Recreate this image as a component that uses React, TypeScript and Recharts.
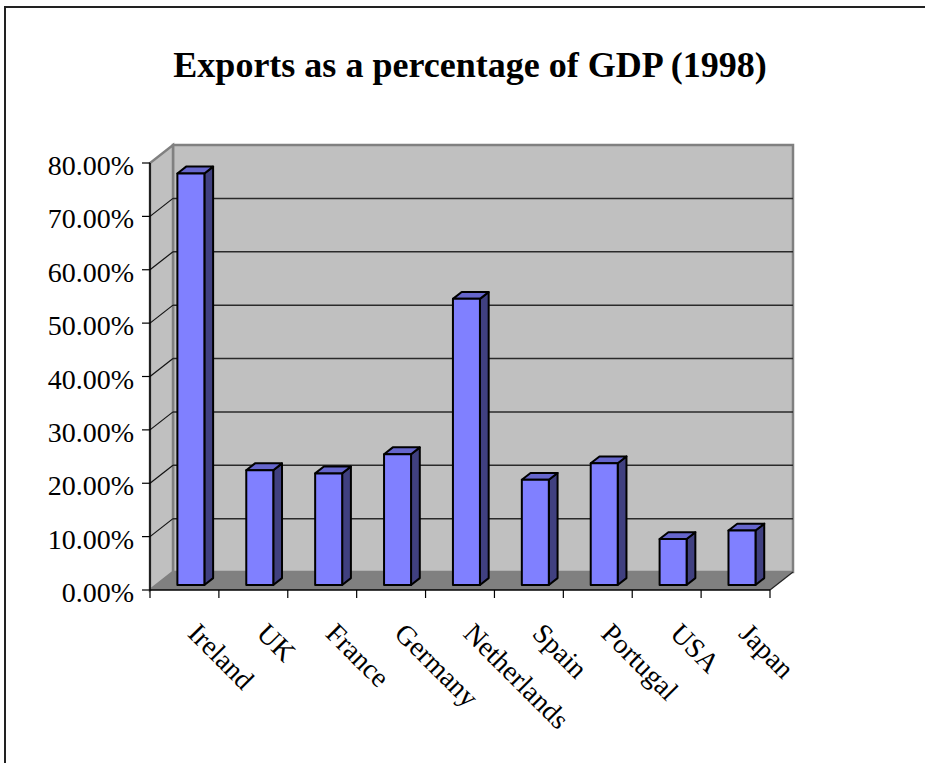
import React from "react";
import { BarChart, Bar, XAxis, YAxis, ReferenceArea } from "recharts";

const categories = [
  "Ireland",
  "UK",
  "France",
  "Germany",
  "Netherlands",
  "Spain",
  "Portugal",
  "USA",
  "Japan",
];
const exportShare = [0.771, 0.215, 0.209, 0.245, 0.536, 0.197, 0.228, 0.086, 0.102];
const yTicks = [0, 0.1, 0.2, 0.3, 0.4, 0.5, 0.6, 0.7, 0.8];

const data = categories.map((country, i) => ({ country, share: exportShare[i] }));

const FONT = "'Liberation Serif', 'Times New Roman', serif";
// oblique depth of the 3D box
const DX = 23;
const DY = -18;
const BAR_FRONT = 0.28; // where the bar front sits inside the depth
const BAR_DEPTH = 0.38;

function formatPct(v: number): string {
  return `${(v * 100).toFixed(2)}%`;
}

function Frame(props: any) {
  const { x, y, width, height } = props;
  const maxV = yTicks[yTicks.length - 1];
  const y0 = y + height;
  const toY = (v: number) => y0 - (v / maxV) * height;
  const inner = yTicks.filter((t) => t > 0 && t < maxV);
  return (
    <g>
      {/* back wall */}
      <rect
        x={x + DX}
        y={y + DY}
        width={width}
        height={height}
        fill="#c0c0c0"
        stroke="#808080"
        strokeWidth={2.5}
      />
      {/* side wall */}
      <polygon
        points={`${x},${y0} ${x},${y} ${x + DX},${y + DY} ${x + DX},${y0 + DY}`}
        fill="#c0c0c0"
        stroke="#808080"
        strokeWidth={2.5}
      />
      {/* floor */}
      <polygon
        points={`${x},${y0} ${x + width},${y0} ${x + width + DX},${y0 + DY} ${x + DX},${y0 + DY}`}
        fill="#808080"
      />
      {inner.map((t) => (
        <g key={t}>
          <line
            x1={x + DX}
            x2={x + width + DX}
            y1={toY(t) + DY}
            y2={toY(t) + DY}
            stroke="#2a2a2a"
            strokeWidth={1.5}
          />
          <line x1={x} x2={x + DX} y1={toY(t)} y2={toY(t) + DY} stroke="#111" strokeWidth={1.2} />
        </g>
      ))}
      <line
        x1={x + width}
        y1={y0}
        x2={x + width + DX}
        y2={y0 + DY}
        stroke="#222"
        strokeWidth={1.2}
      />
    </g>
  );
}

function Bar3D(props: any) {
  const { x, y, width, height } = props;
  if (width == null || height == null) return null;
  const ox = DX * BAR_FRONT;
  const oy = DY * BAR_FRONT;
  const bx = DX * BAR_DEPTH;
  const by = DY * BAR_DEPTH;
  const left = x + ox;
  const right = left + width;
  const top = y + oy;
  const bottom = y + height + oy;
  return (
    <g stroke="#000" strokeWidth={2} strokeLinejoin="round">
      <polygon
        points={`${right},${top} ${right + bx},${top + by} ${right + bx},${bottom + by} ${right},${bottom}`}
        fill="#404080"
      />
      <polygon
        points={`${left},${top} ${right},${top} ${right + bx},${top + by} ${left + bx},${top + by}`}
        fill="#6666cc"
      />
      <rect x={left} y={top} width={width} height={bottom - top} fill="#8080ff" />
    </g>
  );
}

function CountryTick(props: any) {
  const { x, y, payload } = props;
  const half = payload?.offset ?? 0;
  const last = payload?.index === categories.length - 1;
  return (
    <g>
      <line x1={x - half} x2={x - half} y1={y} y2={y + 8} stroke="#000" strokeWidth={1.2} />
      {last && (
        <line x1={x + half} x2={x + half} y1={y} y2={y + 8} stroke="#000" strokeWidth={1.2} />
      )}
      <text
        x={x + 2}
        y={y + 45}
        transform={`rotate(45, ${x + 2}, ${y + 45})`}
        fontSize={28}
        fontFamily={FONT}
        fill="#000"
        textAnchor="start"
      >
        {payload.value}
      </text>
    </g>
  );
}

function PctTick(props: any) {
  const { x, y, payload } = props;
  return (
    <text x={x} y={y + 12} textAnchor="end" fontSize={28} fontFamily={FONT} fill="#000">
      {formatPct(payload.value)}
    </text>
  );
}

export default function App() {
  return (
    <div
      style={{
        position: "absolute",
        left: 0,
        top: 0,
        width: 925,
        height: 763,
        overflow: "hidden",
        background: "#fff",
      }}
    >
      {/* outer chart-area border: only top and left fall inside the picture */}
      <div
        style={{
          position: "absolute",
          left: 4,
          top: 6,
          width: 921,
          height: 2,
          background: "#222",
        }}
      />
      <div
        style={{
          position: "absolute",
          left: 4,
          top: 6,
          width: 2,
          height: 757,
          background: "#222",
        }}
      />
      <div
        style={{
          position: "absolute",
          left: 0,
          top: 47,
          width: 940,
          textAlign: "center",
          fontFamily: FONT,
          fontWeight: "bold",
          fontSize: 36,
          lineHeight: "36px",
          color: "#000",
        }}
      >
        Exports as a percentage of GDP (1998)
      </div>
      <div style={{ position: "absolute", left: 0, top: 0 }}>
        <BarChart
          width={925}
          height={763}
          data={data}
          margin={{ top: 163, right: 155, bottom: 113, left: 50 }}
          barCategoryGap="30.4%"
        >
          <ReferenceArea y1={0} y2={0.8} ifOverflow="visible" shape={Frame} zIndex={-50} />
          <XAxis
            dataKey="country"
            height={60}
            interval={0}
            tickLine={false}
            tickSize={0}
            tickMargin={0}
            axisLine={{ stroke: "#000", strokeWidth: 1.5 }}
            tick={<CountryTick />}
          />
          <YAxis
            width={100}
            domain={[0, 0.8]}
            ticks={yTicks}
            tickSize={8}
            tickMargin={8}
            axisLine={{ stroke: "#000", strokeWidth: 1.5 }}
            tickLine={{ stroke: "#000", strokeWidth: 1.2 }}
            tick={<PctTick />}
          />
          <Bar dataKey="share" shape={Bar3D} isAnimationActive={false} />
        </BarChart>
      </div>
    </div>
  );
}
